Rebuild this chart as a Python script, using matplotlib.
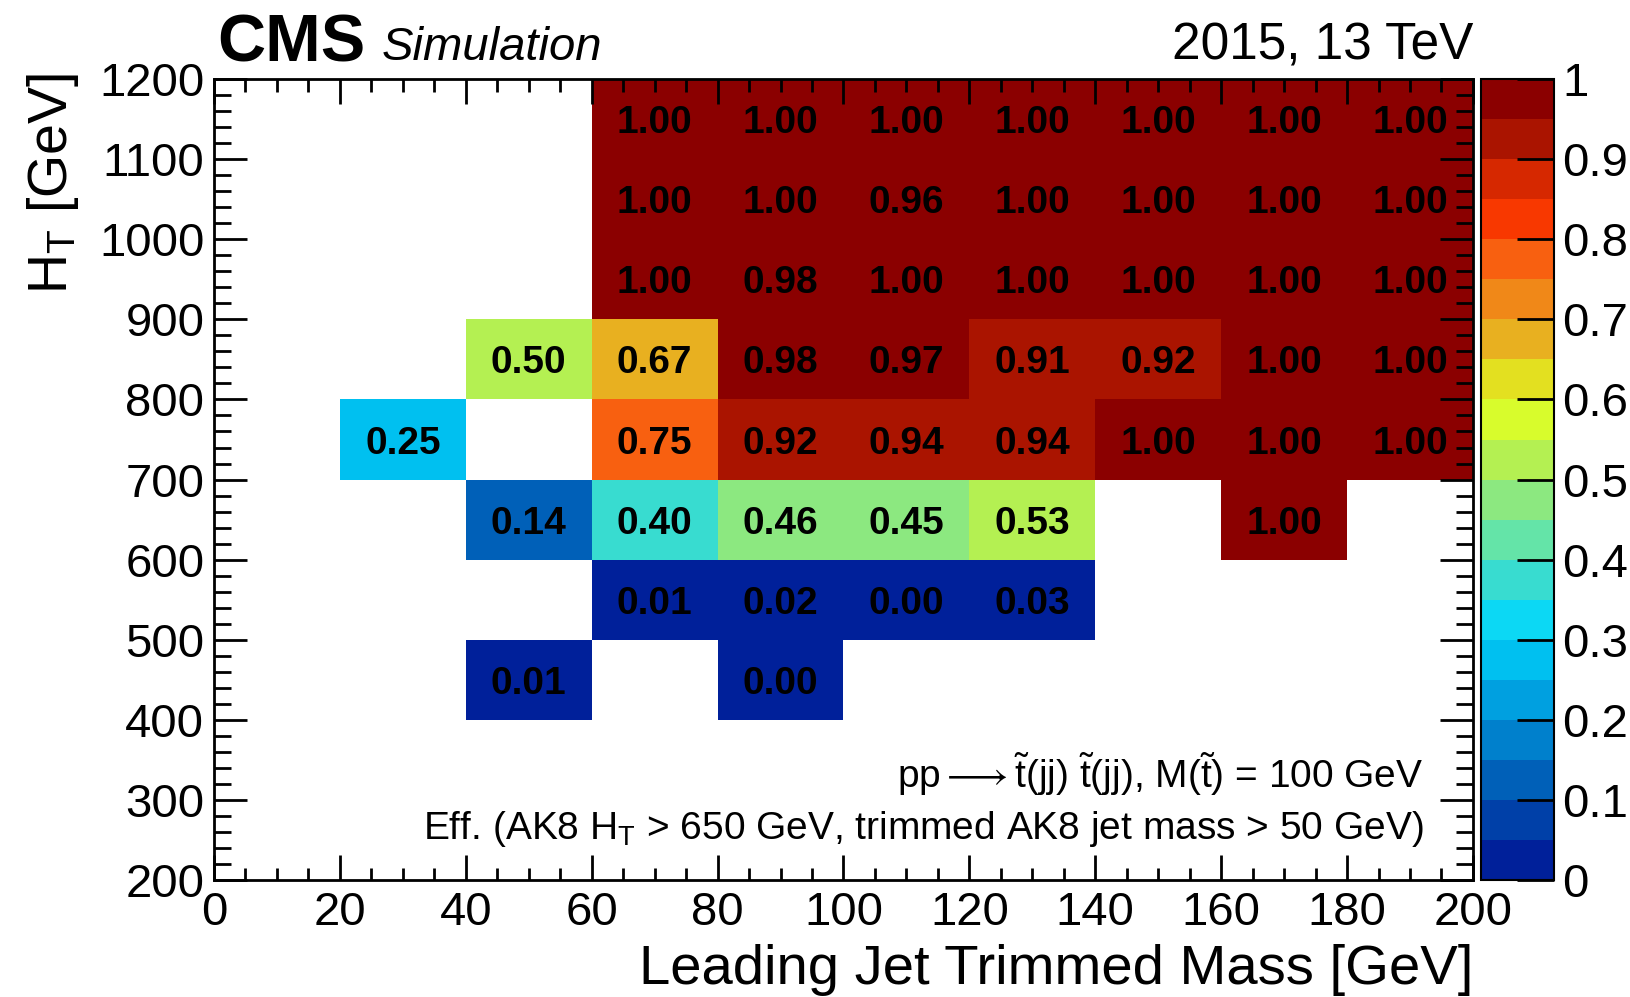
import numpy as np
import matplotlib
matplotlib.use("Agg")
import matplotlib.pyplot as plt
from matplotlib.colors import ListedColormap, BoundaryNorm

plt.rcParams['font.family'] = ['Liberation Sans', 'DejaVu Sans']
plt.rcParams['mathtext.fontset'] = 'custom'
plt.rcParams['mathtext.rm'] = 'Liberation Sans'
plt.rcParams['mathtext.it'] = 'Liberation Sans:italic'
plt.rcParams['mathtext.bf'] = 'Liberation Sans:bold'
plt.rcParams['mathtext.fallback'] = 'stixsans'

# bin edges
mass_edges = np.arange(0, 201, 20)
ht_edges = np.arange(200, 1201, 100)

# efficiency per HT row (bottom to top), one entry per 20 GeV mass bin, None = empty
row_200 = [None] * 10
row_300 = [None] * 10
row_400 = [None, None, 0.01, None, 0.00, None, None, None, None, None]
row_500 = [None, None, None, 0.01, 0.02, 0.00, 0.03, None, None, None]
row_600 = [None, None, 0.14, 0.398, 0.46, 0.45, 0.53, None, 1.00, None]
row_700 = [None, 0.25, None, 0.75, 0.92, 0.94, 0.94, 1.00, 1.00, 1.00]
row_800 = [None, None, 0.50, 0.67, 0.98, 0.97, 0.91, 0.92, 1.00, 1.00]
row_900 = [None, None, None, 1.00, 0.98, 1.00, 1.00, 1.00, 1.00, 1.00]
row_1000 = [None, None, None, 1.00, 1.00, 0.96, 1.00, 1.00, 1.00, 1.00]
row_1100 = [None, None, None, 1.00, 1.00, 1.00, 1.00, 1.00, 1.00, 1.00]

rows = [row_200, row_300, row_400, row_500, row_600,
        row_700, row_800, row_900, row_1000, row_1100]
eff = np.array([[np.nan if v is None else v for v in r] for r in rows])

# ROOT-like 20 step palette
palette = ['#00209a', '#0040a8', '#0060b8', '#0080cc', '#00a0e0',
           '#00c0f0', '#0cd8f4', '#38dcd0', '#64e4a8', '#8ce880',
           '#b4f052', '#d8fc2c', '#e3e020', '#e8b020', '#f08818',
           '#f86010', '#f83800', '#d62800', '#aa1400', '#8b0000']
cmap = ListedColormap(palette)
norm = BoundaryNorm(np.linspace(0, 1, 21), cmap.N, clip=True)

fig = plt.figure(figsize=(16.31, 9.97), dpi=100)
ax = fig.add_axes([0.1312, 0.1173, 0.7719, 0.8034])
cax = fig.add_axes([0.9080, 0.1173, 0.0448, 0.8034])

mesh = ax.pcolormesh(mass_edges, ht_edges, np.ma.masked_invalid(eff),
                     cmap=cmap, norm=norm)

xc = (mass_edges[:-1] + mass_edges[1:]) / 2
yc = (ht_edges[:-1] + ht_edges[1:]) / 2
for i in range(len(yc)):
    for j in range(len(xc)):
        if not np.isnan(eff[i, j]):
            ax.text(xc[j], yc[i] - 5, "%.2f" % eff[i, j], ha='center', va='center',
                    fontsize=28, fontweight='bold', color='black')

ax.set_xlim(0, 200)
ax.set_ylim(200, 1200)
ax.set_xticks(np.arange(0, 201, 20))
ax.set_xticks(np.arange(0, 201, 5), minor=True)
ax.set_yticks(np.arange(200, 1201, 100))
ax.set_yticks(np.arange(200, 1201, 20), minor=True)

for s in ax.spines.values():
    s.set_linewidth(2)
ax.tick_params(which='both', direction='in', top=True, right=True,
               width=2, labelsize=34)
ax.tick_params(axis='x', which='major', length=18, pad=8)
ax.tick_params(axis='x', which='minor', length=9)
ax.tick_params(axis='y', which='major', length=24, pad=7)
ax.tick_params(axis='y', which='minor', length=12)

ax.set_xlabel("Leading Jet Trimmed Mass [GeV]", fontsize=40.5, loc='right')
ax.xaxis.set_label_coords(1.0, -0.080)
ax.set_ylabel(r"H$_{\mathrm{T}}$ [GeV]", fontsize=40, loc='top')
ax.yaxis.set_label_coords(-0.106, 1.008)

ax.text(0.961, 0.115,
        r"pp$\longrightarrow$$\tilde{\mathrm{t}}$(jj) $\tilde{\mathrm{t}}$(jj), M($\tilde{\mathrm{t}}$) = 100 GeV",
        transform=ax.transAxes, ha='right', va='baseline', fontsize=28)
ax.text(0.961, 0.051,
        r"Eff. (AK8 H$_{\mathrm{T}}$ > 650 GeV, trimmed AK8 jet mass > 50 GeV)",
        transform=ax.transAxes, ha='right', va='baseline', fontsize=28)

cb = fig.colorbar(mesh, cax=cax)
cb.set_ticks(np.linspace(0, 1, 11))
cb.set_ticklabels(["0", "0.1", "0.2", "0.3", "0.4", "0.5",
                   "0.6", "0.7", "0.8", "0.9", "1"])
cb.ax.tick_params(direction='in', length=27, width=2, labelsize=34, pad=6)
cb.ax.minorticks_off()
cb.outline.set_linewidth(1.5)

fig.text(217 / 1631, 1 - 61 / 997, "CMS", fontsize=48, fontweight='bold',
         ha='left', va='baseline')
fig.text(382 / 1631, 1 - 60 / 997, "Simulation", fontsize=34, style='italic',
         ha='left', va='baseline')
fig.text(1473 / 1631, 1 - 60 / 997, "2015, 13 TeV", fontsize=37,
         ha='right', va='baseline')

fig.savefig("out.png", dpi=100)
